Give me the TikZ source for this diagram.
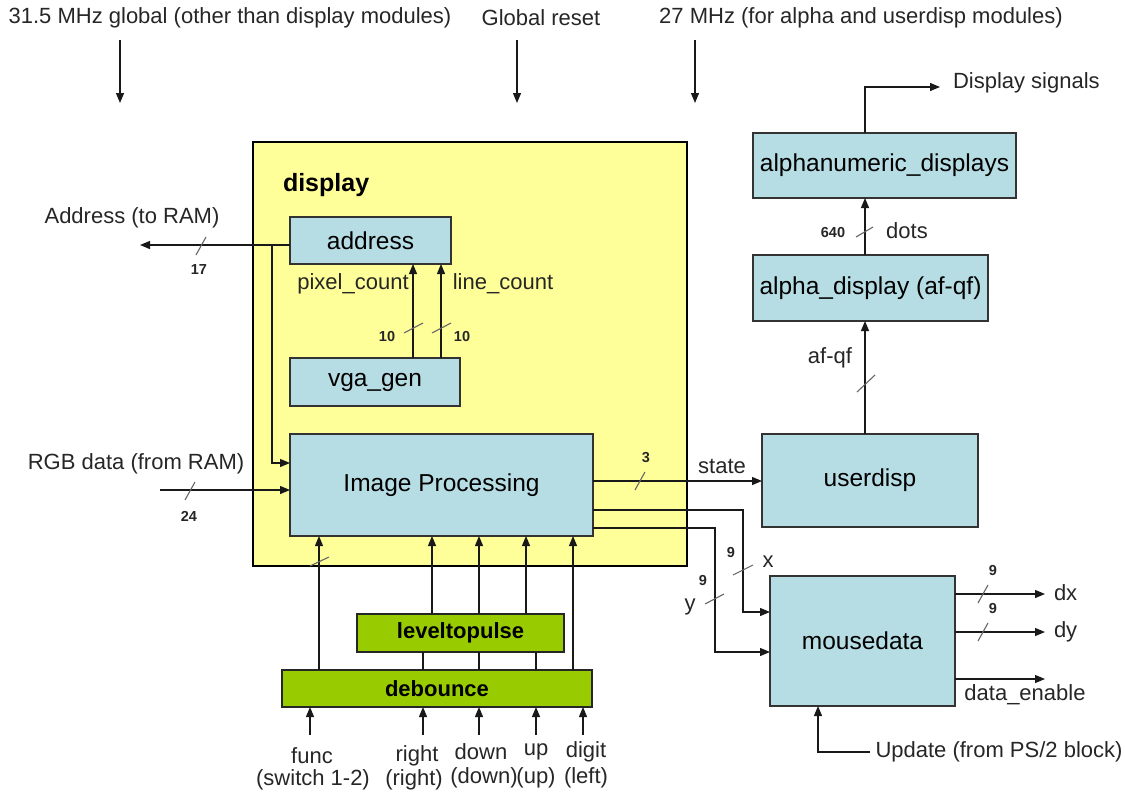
\documentclass[tikz,border=0pt]{standalone}
\usepackage{fontspec}
\setmainfont{Liberation Sans}
\usetikzlibrary{arrows.meta}
\definecolor{dispyellow}{RGB}{255,255,153}
\definecolor{modblue}{RGB}{183,221,228}
\definecolor{modgreen}{RGB}{153,204,0}
\definecolor{wire}{RGB}{25,25,25}
\begin{document}
\begin{tikzpicture}[x=1pt,y=-1pt,
  every node/.style={inner sep=0pt, outer sep=0pt},
  module/.style={draw=black!80, line width=1.1pt, fill=modblue,
    font=\fontsize{24.5}{28}\selectfont},
  helper/.style={draw=black!85, line width=1.1pt, fill=modgreen,
    font=\bfseries\fontsize{22}{26}\selectfont},
  lbl/.style={font=\fontsize{22}{26}\selectfont, text=black!85},
  width/.style={font=\bfseries\fontsize{14.5}{17}\selectfont, text=black!85},
  wireline/.style={draw=wire, line width=1.2pt},
  arr/.style={wireline, -{Triangle[length=10pt,width=8pt]}},
  busmark/.style={draw=black!60, line width=1.1pt}
]
\useasboundingbox (0,0) rectangle (1125,795);

% ---------- clock / reset inputs ----------
\node[lbl] (clkglobal) at (230,18) {31.5 MHz global (other than display modules)};
\node[lbl] (greset) at (541,18) {Global reset};
\node[lbl] (clkalpha) at (861,18) {27 MHz (for alpha and userdisp modules)};
\coordinate (cg1) at (120,40);  \coordinate (cg2) at (120,103);
\coordinate (gr1) at (517,40);  \coordinate (gr2) at (517,103);
\coordinate (ca1) at (695,40);  \coordinate (ca2) at (695,103);
\draw[arr] (cg1) -- (cg2);
\draw[arr] (gr1) -- (gr2);
\draw[arr] (ca1) -- (ca2);

% ---------- display block ----------
\node[draw=black, line width=1.6pt, fill=dispyellow,
      minimum width=434pt, minimum height=424pt] (disp) at (470,354) {};
\node[anchor=west, font=\bfseries\fontsize{25}{29}\selectfont] (disptitle) at (283,185) {display};

\node[module, minimum width=161pt, minimum height=47pt] (addr) at (370.5,240.5) {address};
\node[module, minimum width=170pt, minimum height=48pt] (vga) at (375,382) {vga\_gen};
\node[module, minimum width=303pt, minimum height=102pt] (ip) at (441.5,485) {Image Processing};

% counters from vga_gen to address
\draw[arr] (vga.north -| 413,0) -- (addr.south -| 413,0);
\draw[arr] (vga.north -| 441,0) -- (addr.south -| 441,0);
\node[lbl] (pixcnt) at (353,284) {pixel\_count};
\node[lbl] (linecnt) at (503,284) {line\_count};
\draw[busmark] (404,333) -- (423,323);
\draw[busmark] (432,333) -- (451,323);
\node[width] (w10a) at (387,337) {10};
\node[width] (w10b) at (462,337) {10};

% address out to RAM, tapped into image processing
\coordinate (ramout) at (140,245);
\coordinate (tap) at (272,245);
\draw[arr] (addr.west |- ramout) -- (ramout);
\draw[arr] (tap) |- (ip.west |- 0,463);
\node[lbl] (ramaddr) at (132,218) {Address (to RAM)};
\draw[busmark] (196,255) -- (206,237);
\node[width] (w17) at (199,270) {17};

% RGB data from RAM
\coordinate (rgbin) at (160,490);
\draw[arr] (rgbin) -- (ip.west |- rgbin);
\node[lbl] (rgblbl) at (136,464) {RGB data (from RAM)};
\draw[busmark] (185,500) -- (195,482);
\node[width] (w24) at (189,516) {24};

% ---------- right-hand modules ----------
\node[module, minimum width=216pt, minimum height=93pt] (ud) at (870,480.5) {userdisp};
\node[module, minimum width=185pt, minimum height=130pt] (md) at (862.5,641) {mousedata};
\node[module, minimum width=235pt, minimum height=66pt] (ad) at (870.5,288) {alpha\_display (af-qf)};
\node[module, minimum width=263pt, minimum height=65pt] (an) at (884.5,165.5) {alphanumeric\_displays};

% state to userdisp
\draw[arr] (ip.east |- 0,481) -- (ud.west |- 0,481);
\node[lbl] (statelbl) at (722,466) {state};
\draw[busmark] (635,490) -- (645,472);
\node[width] (w3) at (646,458) {3};

% x and y to mousedata
\draw[arr] (ip.east |- 0,510) -- (743,510) -- (743,612) -- (md.west |- 0,612);
\draw[arr] (ip.east |- 0,528) -- (715,528) -- (715,652) -- (md.west |- 0,652);
\draw[busmark] (733,575) -- (753,565);
\node[width] (w9x) at (731,553) {9};
\node[lbl] (xlbl) at (768,562) {x};
\draw[busmark] (705,604) -- (724,594);
\node[width] (w9y) at (703,581) {9};
\node[lbl] (ylbl) at (690,607) {y};

% userdisp -> alpha_display -> alphanumeric_displays
\draw[arr] (ud.north -| 865,0) -- (ad.south -| 865,0);
\node[lbl] (afqf) at (830,358) {af-qf};
\draw[busmark] (857,392) -- (875,375);
\draw[arr] (ad.north -| 865,0) -- (an.south -| 865,0);
\draw[busmark] (856,237) -- (873,227);
\node[width] (w640) at (833,233) {640};
\node[lbl] (dotslbl) at (907,231) {dots};
\coordinate (dsig) at (940,87);
\draw[arr] (an.north -| 865,0) |- (dsig);
\node[lbl, anchor=west] (dsiglbl) at (953,83) {Display signals};

% mousedata outputs
\coordinate (dxo) at (1045,594);
\coordinate (dyo) at (1045,632);
\coordinate (deo) at (1045,679);
\draw[arr] (md.east |- dxo) -- (dxo);
\draw[arr] (md.east |- dyo) -- (dyo);
\draw[arr] (md.east |- deo) -- (deo);
\draw[busmark] (978,603) -- (988,585);
\draw[busmark] (978,641) -- (988,623);
\node[width] (w9dx) at (993,571) {9};
\node[width] (w9dy) at (993,609) {9};
\node[lbl, anchor=west] (dxlbl) at (1054,593) {dx};
\node[lbl, anchor=west] (dylbl) at (1054,632) {dy};
\node[lbl] (delbl) at (1025,695) {data\_enable};

% update strobe from PS/2
\node[lbl] (updlbl) at (999,752) {Update (from PS/2 block)};
\coordinate (upd) at (870,752);
\draw[arr] (upd) -| (md.south -| 818,0);

% ---------- button conditioning ----------
\node[helper, minimum width=207pt, minimum height=38pt] (lp) at (460.5,633) {leveltopulse};
\node[helper, minimum width=310pt, minimum height=37pt] (db) at (437,688.5) {debounce};

\draw[arr] (db.north -| 319,0) -- (ip.south -| 319,0);
\draw[busmark] (310,566) -- (329,557);
\draw[wireline] (db.north -| 423,0) -- (lp.south -| 423,0);
\draw[arr] (lp.north -| 432,0) -- (ip.south -| 432,0);
\draw[wireline] (db.north -| 479,0) -- (lp.south -| 479,0);
\draw[arr] (lp.north -| 479,0) -- (ip.south -| 479,0);
\draw[wireline] (db.north -| 536,0) -- (lp.south -| 536,0);
\draw[arr] (lp.north -| 526,0) -- (ip.south -| 526,0);
\draw[arr] (db.north -| 573,0) -- (ip.south -| 573,0);

% push-button inputs
\coordinate (infunc) at (310,735);
\coordinate (inright) at (423,735);
\coordinate (indown) at (479,735);
\coordinate (inup) at (536,735);
\coordinate (indigit) at (583,735);
\draw[arr] (infunc) -- (db.south -| infunc);
\draw[arr] (inright) -- (db.south -| inright);
\draw[arr] (indown) -- (db.south -| indown);
\draw[arr] (inup) -- (db.south -| inup);
\draw[arr] (indigit) -- (db.south -| indigit);

\node[lbl] (lfunc) at (312,756) {func};
\node[lbl] (lfunc2) at (313,780) {(switch 1-2)};
\node[lbl] (lright) at (417,756) {right};
\node[lbl] (lright2) at (414,780) {(right)};
\node[lbl] (ldown) at (481,752) {down};
\node[lbl] (ldown2) at (484,778) {(down)};
\node[lbl] (lup) at (536,752) {up};
\node[lbl] (lup2) at (536,778) {(up)};
\node[lbl] (ldigit) at (586,752) {digit};
\node[lbl] (ldigit2) at (586,778) {(left)};
\end{tikzpicture}
\end{document}
